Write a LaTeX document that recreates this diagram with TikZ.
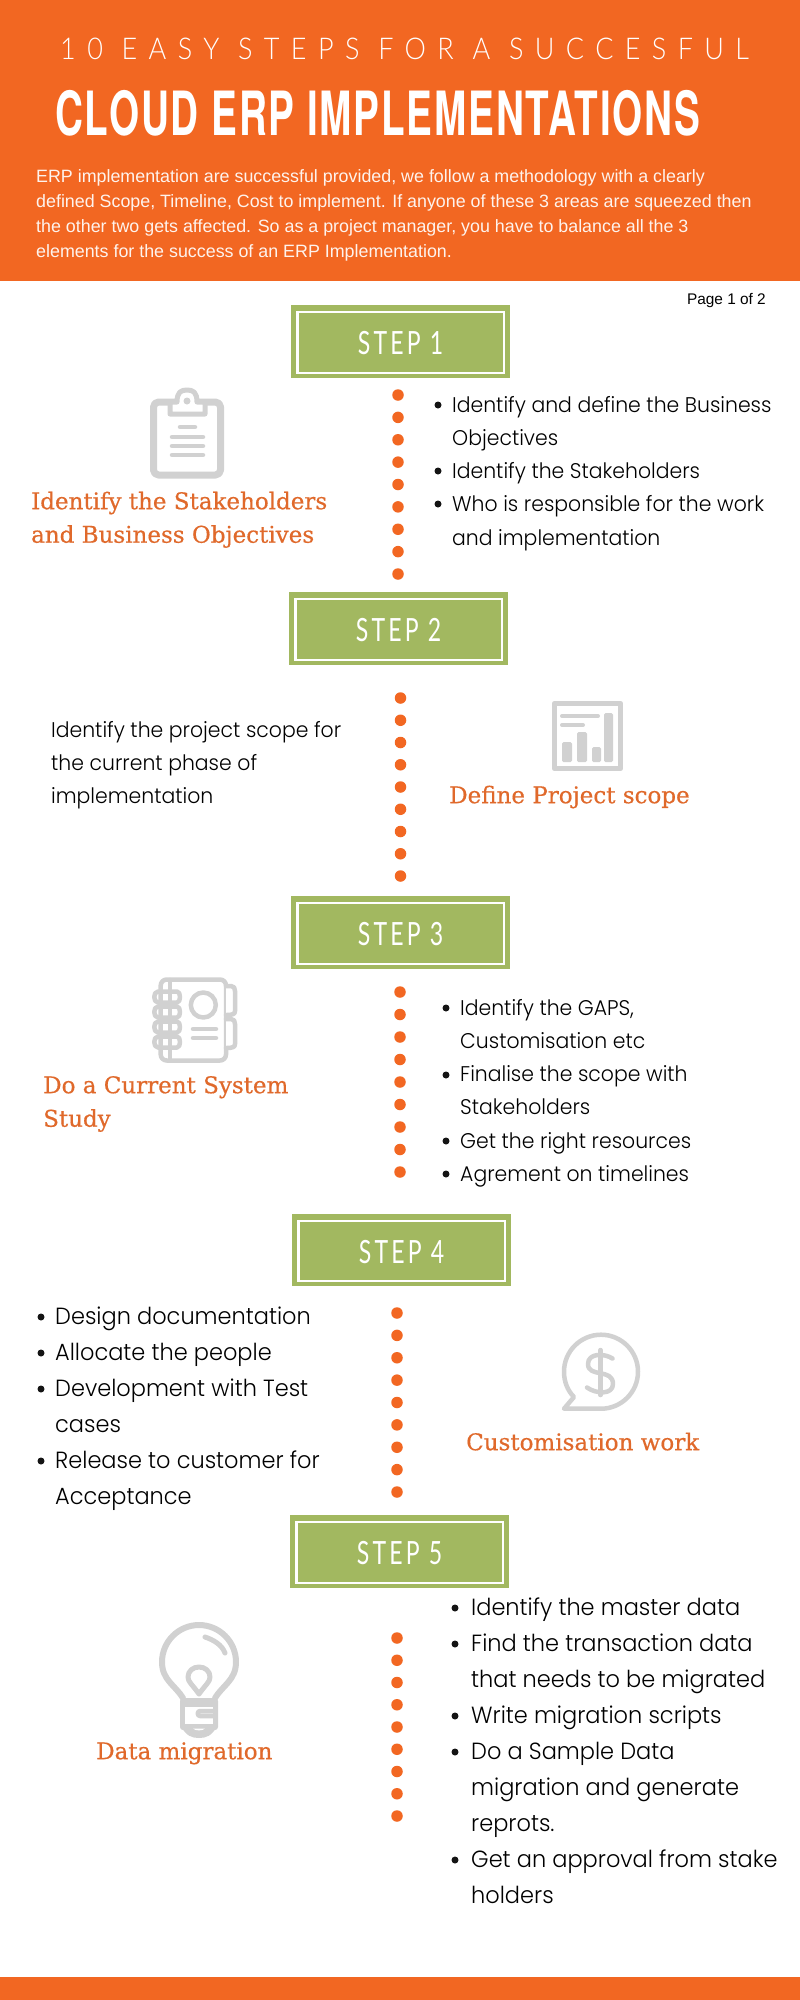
\documentclass[tikz,border=0pt]{standalone}
\usepackage{fontspec}
\setmainfont{Liberation Sans}
\newfontfamily\bodyf[FakeStretch=0.96,UprightFont=* Light]{Poppins}
\newfontfamily\hdgf[FakeStretch=1.0,FakeBold=0.5]{DejaVu Serif}
\newfontfamily\ttlf[FakeStretch=0.9,LetterSpace=38,UprightFont=* Light]{Lato}
\newfontfamily\stepf[FakeStretch=0.72,LetterSpace=10]{Lato}
\newfontfamily\bigf[FakeStretch=0.634,LetterSpace=3]{TeX Gyre Heros}
\definecolor{hdr}{HTML}{F26722}
\definecolor{hd}{HTML}{E0692B}
\definecolor{stepgreen}{HTML}{A2B860}
\definecolor{ico}{HTML}{D1D1D1}
\newcommand\fs[2]{\fontsize{#1}{#2}\selectfont}
\newcommand\st{\rule{0pt}{20pt}}
\tikzset{
  stepbox/.style={fill=stepgreen,draw=none,minimum width=219pt,minimum height=73pt,inner sep=0pt},
  steptext/.style={text=white,inner sep=0pt,font=\stepf\fs{32}{32}},
  stepframe/.style={draw=white,line width=2.4pt,fill=none},
  dotline/.style={draw=hdr,line width=11.5pt,line cap=round},
  bodyb/.style={anchor=north west,inner sep=0pt,align=left,text=black,font=\bodyf\fs{23.4}{36}},
  bodyc/.style={anchor=north west,inner sep=0pt,align=left,text=black,font=\bodyf\fs{21.25}{33.2}},
  head/.style={anchor=north west,inner sep=0pt,align=left,text=hd,font=\hdgf\fs{23}{33.5}},
  bul/.style={circle,fill=black!92,minimum size=7pt,inner sep=0pt},
  icon/.style={draw=ico,line width=#1,line join=round,line cap=round},
  icon/.default=5pt
}
\newcommand\stepnode[6]{% name, x1, y1, x2, y2, label
  \node[stepbox,minimum width={#4pt-#2pt},minimum height={#5pt-#3pt}] (#1) at ({(#2+#4)/2},{(#3+#5)/2}) {};
  \draw[stepframe] ([xshift=6.5pt,yshift=-7pt]#1.north west) rectangle ([xshift=-6.5pt,yshift=5.5pt]#1.south east);
  \node[steptext,yshift=-2pt] (#1t) at (#1.center) {#6};
}
\newcommand\bdot[3]{\node[bul] (#1) at (#2,#3) {};}
\begin{document}
\begin{tikzpicture}[x=1pt,y=-1pt]
\useasboundingbox (0,0) rectangle (800,2000);
\fill[white] (0,0) rectangle (800,2000);
% header
\fill[hdr] (0,0) rectangle (800,281);
\fill[hdr] (0,1977) rectangle (800,2000);
\node[anchor=base west,inner sep=0pt,text=white,font=\ttlf\fs{30}{30}] (t1) at (60,59) {10 EASY STEPS FOR A SUCCESFUL};
\node[anchor=base west,inner sep=0pt,text=white,font=\bigf\bfseries\fs{61}{61}] (t2) at (55,135) {CLOUD ERP IMPLEMENTATIONS};
\node[anchor=north west,inner sep=0pt,align=left,text=white!92!hdr,font=\fs{17.85}{25}] (intro) at (36,162) {\st ERP implementation are successful provided, we follow a methodology with a clearly\\defined Scope, Timeline, Cost to implement. If anyone of these 3 areas are squeezed then\\the other two gets affected. So as a project manager, you have to balance all the 3\\elements for the success of an ERP Implementation.};
\node[anchor=base east,inner sep=0pt,text=black,font=\fs{15.4}{15.4}] (page) at (766,304) {Page 1 of 2};
% steps
\stepnode{s1}{291}{305}{510}{378}{STEP 1}
\stepnode{s2}{289}{592}{508}{665}{STEP 2}
\stepnode{s3}{291}{896}{510}{969}{STEP 3}
\stepnode{s4}{292}{1214}{511}{1286}{STEP 4}
\stepnode{s5}{290}{1515}{509}{1588}{STEP 5}
% dotted connectors
\coordinate (a1) at (398,395); \coordinate (b1) at (398,574.3);
\coordinate (a2) at (400.5,698); \coordinate (b2) at (400.5,876.3);
\coordinate (a3) at (400,992); \coordinate (b3) at (400,1172.3);
\coordinate (a4) at (397,1313); \coordinate (b4) at (397,1492.3);
\coordinate (a5) at (397,1638); \coordinate (b5) at (397,1816.3);
\draw[dotline,dash pattern=on 0pt off 22.375pt] (a1) -- (b1);
\draw[dotline,dash pattern=on 0pt off 22.25pt] (a2) -- (b2);
\draw[dotline,dash pattern=on 0pt off 22.5pt] (a3) -- (b3);
\draw[dotline,dash pattern=on 0pt off 22.375pt] (a4) -- (b4);
\draw[dotline,dash pattern=on 0pt off 22.25pt] (a5) -- (b5);
% step 1
\node[head] (h1) at (31,489) {\st Identify the Stakeholders\\and Business Objectives};
\node[bodyc] (x1) at (452,392) {\st Identify and define the Business\\Objectives\\Identify the Stakeholders\\Who is responsible for the work\\and implementation};
\bdot{p1a}{438}{405}\bdot{p1b}{438}{471}\bdot{p1c}{438}{504}
% step 2
\node[bodyc] (x2) at (51,717) {\st Identify the project scope for\\the current phase of\\implementation};
\node[head] (h2) at (449,783) {\st Define Project scope};
% step 3
\node[head] (h3) at (43,1073) {\st Do a Current System\\Study};
\node[bodyc] (x3) at (460,995) {\st Identify the GAPS,\\Customisation etc\\Finalise the scope with\\Stakeholders\\Get the right resources\\Agrement on timelines};
\bdot{p3a}{446}{1008}\bdot{p3b}{446}{1075}\bdot{p3c}{446}{1141}\bdot{p3d}{446}{1174}
% step 4
\node[bodyb] (x4) at (55,1304) {\st Design documentation\\Allocate the people\\Development with Test\\cases\\Release to customer for\\Acceptance};
\bdot{p4a}{41}{1317}\bdot{p4b}{41}{1353}\bdot{p4c}{41}{1389}\bdot{p4d}{41}{1461}
\node[head] (h4) at (466,1430) {\st Customisation work};
% step 5
\node[bodyb] (x5) at (471,1595) {\st Identify the master data\\Find the transaction data\\that needs to be migrated\\Write migration scripts\\Do a Sample Data\\migration and generate\\reprots.\\Get an approval from stake\\holders};
\bdot{p5a}{455}{1608}\bdot{p5b}{455}{1644}\bdot{p5c}{455}{1716}\bdot{p5d}{455}{1752}\bdot{p5e}{455}{1860}
\node[head] (h5) at (96,1739) {\st Data migration};
% clipboard icon
\draw[icon=7pt] (153.5,402) [rounded corners=5pt] -- (153.5,475) -- (220.5,475) -- (220.5,402) -- cycle;
\draw[icon=5pt,fill=white] (177,402) .. controls (177,392) and (181,390) .. (187,390) .. controls (193,390) and (197,392) .. (197,402) -- (205,402) -- (205,414) -- (170,414) -- (170,402) -- cycle;
\fill[ico] (187,401) circle (3.5pt);
\draw[icon=4.5pt] (180,427) -- (195,427) (172,437) -- (203,437) (172,446) -- (203,446) (172,455) -- (203,455);
% chart icon
\draw[draw=ico,line width=5.5pt,line join=round] (554.5,703.5) rectangle (620.5,768.5);
\fill[ico,rounded corners=1.5pt] (562,742) rectangle (572,762);
\fill[ico,rounded corners=1.5pt] (577,732) rectangle (587,762);
\fill[ico,rounded corners=1.5pt] (592,747) rectangle (601,762);
\fill[ico,rounded corners=1.5pt] (604,713) rectangle (613,762);
\draw[icon=4pt] (562,716) -- (598,716) (562,725) -- (583,725);
% notebook icon
\draw[icon=4.5pt] (160.7,1040) [rounded corners=6pt] -- (160.7,979.5) -- (226,979.5) -- (226,1060.5) -- (160.7,1060.5) -- cycle;
\draw[icon=4.5pt,fill=white] (226,986) -- (231,986) .. controls (234,986) and (235,988) .. (235,991) -- (235,1011) .. controls (235,1014) and (233,1015) .. (226,1015);
\draw[icon=4.5pt,fill=white] (226,1019) -- (231,1019) .. controls (234,1019) and (235,1021) .. (235,1024) -- (235,1044) .. controls (235,1047) and (233,1048) .. (226,1048);
\draw[icon=4.5pt] (170,980) -- (170,1060);
\foreach \yy in {997,1012,1027,1042} \draw[icon=4.5pt] (158,\yy-5.5) -- (177,\yy-5.5) .. controls (181,\yy-5.5) and (181,\yy+5.5) .. (177,\yy+5.5) -- (158,\yy+5.5) .. controls (153,\yy+5.5) and (153,\yy-5.5) .. (158,\yy-5.5);
\draw[icon=4.5pt] (203.3,1005) circle (12.5pt);
\draw[icon=4.5pt] (193,1029) -- (216,1029) (193,1038) -- (216,1038);
% dollar icon
\draw[icon=4.5pt] (574,1397) .. controls (567.5,1390.5) and (564,1381.5) .. (564,1371.7) .. controls (564,1351.3) and (580.6,1334.7) .. (601,1334.7) .. controls (621.4,1334.7) and (638,1351.3) .. (638,1371.7) .. controls (638,1392.1) and (621.4,1408.7) .. (601,1408.7) -- (564,1408.7) -- cycle;
\draw[icon=4.5pt] (612.5,1358.5) .. controls (604,1353) and (588,1353) .. (588,1364) .. controls (588,1378) and (613,1368) .. (613,1384) .. controls (613,1395) and (596,1394) .. (587,1387.5);
\draw[icon=4.5pt] (600.5,1350) -- (600.5,1395);
% bulb icon
\draw[icon=6pt] (183,1698) .. controls (175,1685) and (162,1680) .. (162,1662) .. controls (162,1641.6) and (178.6,1625) .. (199,1625) .. controls (219.4,1625) and (236,1641.6) .. (236,1662) .. controls (236,1680) and (223,1685) .. (215,1698);
\draw[icon=5pt] (205,1637) .. controls (214,1640) and (222,1645) .. (225,1653);
\draw[icon=5pt] (199,1694) .. controls (192,1684) and (188,1682) .. (188,1677) .. controls (188,1671) and (193,1667) .. (199,1667) .. controls (205,1667) and (210,1671) .. (210,1677) .. controls (210,1682) and (206,1684) .. (199,1694);
\fill[ico,rounded corners=3pt] (180,1698) rectangle (218,1730);
\fill[white] (185,1707) rectangle (213,1724);
\draw[icon=4.5pt] (213,1711) -- (200,1711) .. controls (197,1711) and (197,1716) .. (200,1716) -- (213,1716);
\fill[ico] (181,1726) .. controls (186,1736) and (192,1738) .. (199,1738) .. controls (206,1738) and (212,1736) .. (217,1726) -- cycle;
\fill[white] (193,1728.5) -- (205,1728.5) .. controls (203,1731) and (195,1731) .. (193,1728.5);
\end{tikzpicture}
\end{document}
